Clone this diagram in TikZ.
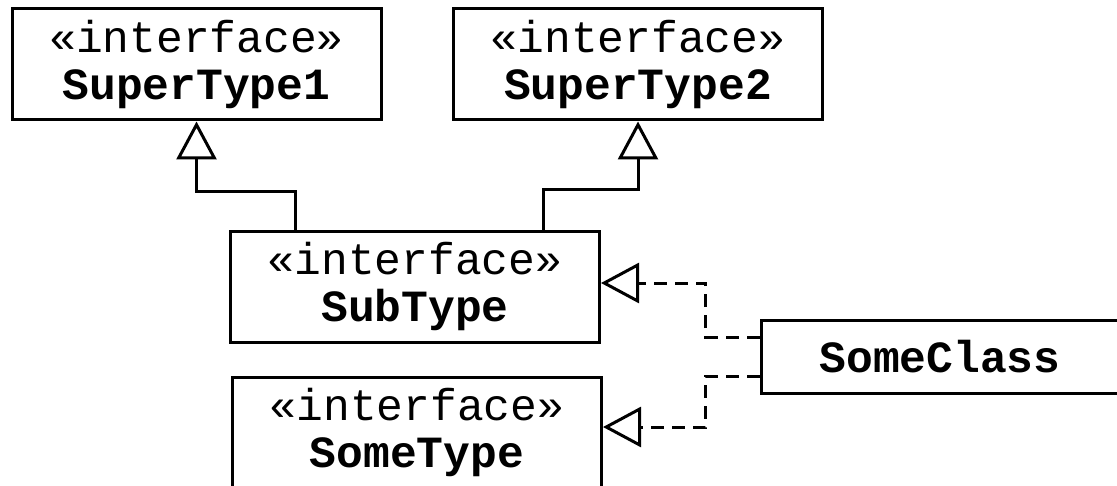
\documentclass[tikz,border=0pt]{standalone}
\usepackage{fontspec}
\setmonofont{Liberation Mono}
\usetikzlibrary{arrows.meta}

\begin{document}
\begin{tikzpicture}[x=0.5pt, y=-0.5pt,
    umlbox/.style={draw, line width=1.5pt, inner sep=0pt, align=center,
        font=\ttfamily\fontsize{22.3}{23.5}\selectfont},
    iface/.style={umlbox, minimum width=184.5pt, minimum height=55.5pt},
    realize/.style={line width=1.5pt, -{Triangle[open, length=19pt, width=20pt]}},
    impl/.style={realize, dash pattern=on 6.5pt off 4pt}]
    \useasboundingbox (0,0) rectangle (1117,486);

    % Draw interfaces
    \node[iface] (st1) at (196.5,64.5) {«interface»\\\textbf{SuperType1}};
    \node[iface] (st2) at (638,64.5) {«interface»\\\textbf{SuperType2}};
    \node[iface] (sub) at (415,286.5) {«interface»\\\textbf{SubType}};
    \node[iface] (some) at (417,432.5) {«interface»\\\textbf{SomeType}};

    % Draw the class
    \node[umlbox, minimum width=179pt, minimum height=36.5pt] (cls) at (940,356.5) {\textbf{SomeClass}};

    % Add generalizations
    \draw[realize] ([xshift=-60pt]sub.north) -- ++(0,-38) -| (st1.south);
    \draw[realize] ([xshift=64pt]sub.north) -- ++(0,-40) -| (st2.south);

    % Add realizations
    \draw[impl] ([yshift=9.75pt]cls.west) -- ++(-54,0) |- ([yshift=1.75pt]sub.east);
    \draw[impl] ([yshift=-9.75pt]cls.west) -- ++(-54,0) |- ([yshift=2.75pt]some.east);
\end{tikzpicture}
\end{document}
